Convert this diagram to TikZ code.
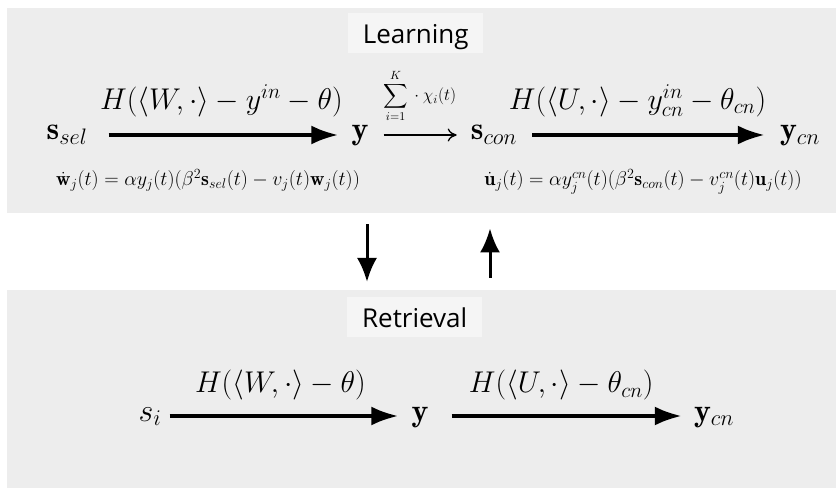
\RequirePackage{fix-cm}
\documentclass[tikz,border=0pt]{standalone}
\usepackage{amsmath,amssymb}
\usepackage{fontspec}
\newfontfamily\panelfont{Open Sans}
\usepackage{tikz}
\usetikzlibrary{
    arrows.meta,
    positioning,
    calc
}

\definecolor{panelgray}{RGB}{237,237,237}
\definecolor{titlegray}{RGB}{245,245,245}

\begin{document}
\begin{tikzpicture}[
  x=1pt, y=1pt,
  panel/.style={rectangle, draw=none, fill=panelgray,
    inner sep=0pt, minimum width=829pt, anchor=north west},
  titlebox/.style={rectangle, fill=titlegray, inner sep=0pt,
    minimum width=135pt, minimum height=40pt,
    text height=21pt, text depth=1pt,
    font=\panelfont\fontsize{26}{30}\selectfont},
  state/.style={inner sep=0pt, anchor=base,
    text height=16pt, text depth=6pt,
    font=\fontsize{32}{38}\selectfont},
  lbl/.style={inner sep=0pt, font=\fontsize{30}{36}\selectfont},
  sumlbl/.style={inner sep=0pt, font=\fontsize{17}{20}\selectfont},
  rule/.style={inner sep=0pt, anchor=base, font=\fontsize{20}{24}\selectfont},
  bigarr/.style={-{Latex[length=27pt, width=19pt]}, line width=4pt},
  thinarr/.style={-{To[length=9pt, width=13pt]}, line width=1.3pt},
  vertarr/.style={-{Latex[length=24pt, width=20pt]}, line width=3pt}
]
\useasboundingbox (0,0) rectangle (836,488);

%% ── Panels ───────────────────────────────────────────────────────────────────
\node[panel, minimum height=205pt] (learn) at (7,480) {};
\node[panel, minimum height=198pt] (retr)  at (7,198) {};

\node[titlebox, below=5pt of learn.north, xshift=-6pt] (ltitle) {Learning};
\node[titlebox, below=7pt of retr.north,  xshift=-7pt] (rtitle) {Retrieval};

%% ── Learning row ─────────────────────────────────────────────────────────────
\node[state] (ssel) at (67,348)  {$\mathbf{s}_{sel}$};
\node[state] (ysel) at (360,348) {$\mathbf{y}$};
\node[state] (scon) at (494,348) {$\mathbf{s}_{con}$};
\node[state] (ycn)  at (800,348) {$\mathbf{y}_{cn}$};

\draw[bigarr, shorten <=21pt, shorten >=13pt] (ssel) --
    node[lbl, midway, above=16pt, xshift=2pt]
    {$H(\langle W,\cdot\rangle - y^{in} - \theta)$} (ysel);
\draw[thinarr, shorten <=15pt, shorten >=14pt] (ysel) --
    node[sumlbl, midway, above=12pt]
    {$\displaystyle\sum_{i=1}^{K}{}\cdot{}\chi_i(t)$} (scon);
\draw[bigarr, shorten <=15pt, shorten >=15pt] (scon) --
    node[lbl, midway, above=16pt, xshift=-11pt]
    {$H(\langle U,\cdot\rangle - y^{in}_{cn} - \theta_{cn})$} (ycn);

\node[rule] (wrule) at (208,302)
    {$\dot{\mathbf{w}}_j(t) = \alpha y_j(t)(\beta^2\mathbf{s}_{sel}(t) - v_j(t)\mathbf{w}_j(t))$};
\node[rule] (urule) at (643,302)
    {$\dot{\mathbf{u}}_j(t) = \alpha y^{cn}_j(t)(\beta^2\mathbf{s}_{con}(t) - v^{cn}_j(t)\mathbf{u}_j(t))$};

%% ── Switching between phases ─────────────────────────────────────────────────
\draw[vertarr] ([xshift=360pt, yshift=-11pt]learn.south west) --
    ([xshift=360pt, yshift=8pt]retr.north west);
\draw[vertarr] ([xshift=483pt, yshift=12pt]retr.north west) --
    ([xshift=483pt, yshift=-15pt]learn.south west);

%% ── Retrieval row ────────────────────────────────────────────────────────────
\node[state] (si)   at (150,67) {$s_i$};
\node[state] (yret) at (420,67) {$\mathbf{y}$};
\node[state] (yout) at (714,67) {$\mathbf{y}_{cn}$};

\draw[bigarr, shorten <=8pt, shorten >=13pt] (si) --
    node[lbl, midway, above=14pt, xshift=-6pt]
    {$H(\langle W,\cdot\rangle - \theta)$} (yret);
\draw[bigarr, shorten <=23pt, shorten >=12pt] (yret) --
    node[lbl, midway, above=14pt]
    {$H(\langle U,\cdot\rangle - \theta_{cn})$} (yout);

\end{tikzpicture}
\end{document}
